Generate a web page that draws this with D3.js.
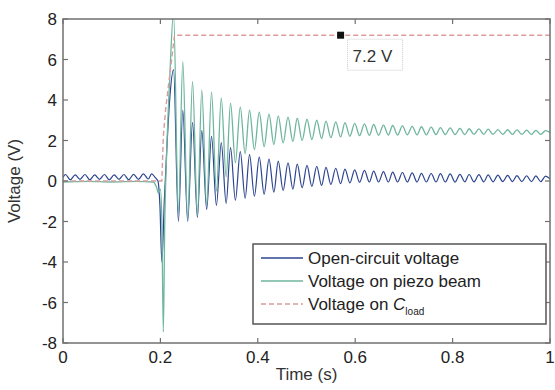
<!DOCTYPE html>
<meta charset="utf-8">
<script src="https://cdn.jsdelivr.net/npm/d3@7"></script>
<title>Voltage vs time</title>
<style>
body { margin: 0; background: #fff; }
svg { font-family: "Liberation Sans", Arial, sans-serif; }
</style>
<svg width="555" height="390"></svg>
<script>

// axis ticks
var xTicks = [0, 0.2, 0.4, 0.6, 0.8, 1];
var yTicks = [-8, -6, -4, -2, 0, 2, 4, 6, 8];

// times of the oscillation peaks / troughs after the impact (s)
var peakTimes = [0.227, 0.246, 0.266, 0.285, 0.305, 0.325, 0.344, 0.364, 0.383, 0.403,
                 0.423, 0.442, 0.462, 0.481, 0.501, 0.521, 0.540, 0.560, 0.579, 0.599,
                 0.619, 0.638, 0.658, 0.677, 0.697, 0.717, 0.736, 0.756, 0.775, 0.795,
                 0.815, 0.834, 0.854, 0.873, 0.893, 0.913, 0.932, 0.952, 0.971, 0.991];
var troughTimes = [0.237, 0.256, 0.276, 0.295, 0.315, 0.335, 0.354, 0.374, 0.393, 0.413,
                   0.433, 0.452, 0.472, 0.491, 0.511, 0.531, 0.550, 0.570, 0.589, 0.609,
                   0.629, 0.648, 0.668, 0.687, 0.707, 0.727, 0.746, 0.766, 0.785, 0.805,
                   0.825, 0.844, 0.864, 0.883, 0.903, 0.923, 0.942, 0.962, 0.981];

// voltage on piezo beam
var beamPre = [[0, -0.05], [0.05, -0.02], [0.1, -0.05], [0.15, -0.02], [0.185, -0.05],
               [0.192, -0.3], [0.196, -0.6], [0.2, -0.4], [0.203, -2.0], [0.206, -7.45],
               [0.209, -2.0], [0.213, 1.5], [0.219, 5.0]];
var beamPeaks = [8.3, 5.9, 4.9, 4.5, 4.4, 4.1, 3.85, 3.65, 3.5, 3.4,
                 3.3, 3.22, 3.15, 3.1, 3.05, 3.0, 2.96, 2.92, 2.88, 2.85,
                 2.82, 2.79, 2.76, 2.74, 2.72, 2.7, 2.68, 2.66, 2.64, 2.62,
                 2.6, 2.58, 2.57, 2.56, 2.54, 2.53, 2.52, 2.51, 2.5, 2.49];
var beamTroughs = [-1.6, -1.9, -1.7, -1.2, -0.5, 0.2, 0.9, 1.35, 1.55, 1.7,
                   1.8, 1.88, 1.95, 2.0, 2.05, 2.1, 2.14, 2.18, 2.21, 2.24,
                   2.25, 2.26, 2.27, 2.27, 2.28, 2.28, 2.28, 2.29, 2.29, 2.29,
                   2.29, 2.3, 2.3, 2.3, 2.3, 2.3, 2.3, 2.3, 2.3];

// open-circuit voltage
var openPre = [[0, 0.18], [0.005, 0.32], [0.015, 0.06], [0.025, 0.3], [0.035, 0.08],
               [0.045, 0.32], [0.055, 0.06], [0.065, 0.3], [0.075, 0.08], [0.085, 0.32],
               [0.095, 0.06], [0.105, 0.3], [0.115, 0.08], [0.125, 0.32], [0.135, 0.06],
               [0.145, 0.33], [0.155, 0.08], [0.165, 0.35], [0.175, 0.1], [0.182, 0.35],
               [0.19, 0.15], [0.195, 0.0], [0.199, -1.2], [0.203, -4.0], [0.208, -1.0],
               [0.213, 1.5], [0.219, 4.0]];
var openPeaks = [5.5, 3.5, 2.9, 2.5, 2.2, 1.9, 1.65, 1.45, 1.3, 1.18,
                 1.08, 0.98, 0.9, 0.83, 0.77, 0.72, 0.67, 0.63, 0.59, 0.55,
                 0.52, 0.49, 0.46, 0.44, 0.42, 0.4, 0.38, 0.37, 0.36, 0.35,
                 0.33, 0.32, 0.31, 0.3, 0.29, 0.28, 0.27, 0.26, 0.25, 0.24];
var openTroughs = [-2.0, -2.0, -1.8, -1.4, -1.2, -1.1, -0.95, -0.85, -0.75, -0.65,
                   -0.55, -0.47, -0.4, -0.33, -0.27, -0.22, -0.17, -0.13, -0.09, -0.06,
                   -0.05, -0.05, -0.05, -0.05, -0.05, -0.05, -0.05, -0.05, -0.05, -0.05,
                   -0.04, -0.04, -0.04, -0.04, -0.03, -0.03, -0.03, -0.03, -0.03];

// voltage on C_load
var loadPoints = [[0, 0], [0.203, 0], [0.206, 2.2], [0.211, 3.6], [0.229, 7.2], [1, 7.2]];
var tipPoint = [0.57, 7.2];
var tipLabel = "7.2 V";

var svg = d3.select("svg");
var pL = 63, pR = 550, pT = 19, pB = 343;

var x = d3.scaleLinear().domain([0, 1]).range([pL, pR]);
var y = d3.scaleLinear().domain([-8, 8]).range([pB, pT]);

function build(pre, peaks, peakT, troughs, troughT) {
  var pts = pre.slice();
  peaks.forEach(function(p, i) {
    pts.push([peakT[i], p]);
    if (i < troughs.length) pts.push([troughT[i], troughs[i]]);
  });
  pts.push([1, peaks[peaks.length - 1] * 0.5 + troughs[troughs.length - 1] * 0.5]);
  return pts;
}

var beam = build(beamPre, beamPeaks, peakTimes, beamTroughs, troughTimes);
var open = build(openPre, openPeaks, peakTimes, openTroughs, troughTimes);

var line = d3.line()
    .x(d => x(d[0]))
    .y(d => y(d[1]))
    .curve(d3.curveMonotoneX);

svg.append("clipPath").attr("id", "plot-clip")
  .append("rect")
    .attr("x", pL).attr("y", pT)
    .attr("width", pR - pL).attr("height", pB - pT);

var plot = svg.append("g").attr("clip-path", "url(#plot-clip)");

var colOpen = "#2d4590", colBeam = "#6fb69e", colLoad = "#d89c9c";

plot.append("path").datum(open)
    .attr("fill", "none").attr("stroke", colOpen).attr("stroke-width", 1.2)
    .attr("d", line);
plot.append("path").datum(beam)
    .attr("fill", "none").attr("stroke", colBeam).attr("stroke-width", 1.3)
    .attr("d", line);
plot.append("path").datum(loadPoints)
    .attr("fill", "none").attr("stroke", colLoad).attr("stroke-width", 1.4)
    .attr("stroke-dasharray", "5,3")
    .attr("d", d3.line().x(d => x(d[0])).y(d => y(d[1])));

// frame
svg.append("rect")
    .attr("x", pL).attr("y", pT)
    .attr("width", pR - pL).attr("height", pB - pT)
    .attr("fill", "none").attr("stroke", "#707070").attr("stroke-width", 1.5);

// ticks on all four sides, pointing inward
var tk = 5;
var axes = svg.append("g").attr("stroke", "#707070").attr("stroke-width", 1.2);
xTicks.forEach(function(t) {
  axes.append("line").attr("x1", x(t)).attr("x2", x(t)).attr("y1", pB).attr("y2", pB - tk);
  axes.append("line").attr("x1", x(t)).attr("x2", x(t)).attr("y1", pT).attr("y2", pT + tk);
});
yTicks.forEach(function(t) {
  axes.append("line").attr("x1", pL).attr("x2", pL + tk).attr("y1", y(t)).attr("y2", y(t));
  axes.append("line").attr("x1", pR).attr("x2", pR - tk).attr("y1", y(t)).attr("y2", y(t));
});

svg.append("g").selectAll("text")
  .data(xTicks)
  .join("text")
    .attr("x", d => x(d))
    .attr("y", pB + 20)
    .attr("text-anchor", "middle")
    .attr("font-size", 17)
    .attr("fill", "#222")
    .text(d => d3.format("")(d));

svg.append("g").selectAll("text")
  .data(yTicks)
  .join("text")
    .attr("x", pL - 6)
    .attr("y", d => y(d) + 6)
    .attr("text-anchor", "end")
    .attr("font-size", 17)
    .attr("fill", "#222")
    .text(d => d < 0 ? "-" + Math.abs(d) : d);

svg.append("text")
    .attr("x", (pL + pR) / 2)
    .attr("y", 380)
    .attr("text-anchor", "middle")
    .attr("font-size", 17)
    .attr("fill", "#333")
    .text("Time (s)");

svg.append("text")
    .attr("transform", "translate(20," + y(0) + ") rotate(-90)")
    .attr("text-anchor", "middle")
    .attr("font-size", 17)
    .attr("fill", "#333")
    .text("Voltage (V)");

// data tip
svg.append("rect")
    .attr("x", x(tipPoint[0]) - 3.5).attr("y", y(tipPoint[1]) - 3.5)
    .attr("width", 7).attr("height", 7)
    .attr("fill", "#111");
svg.append("rect")
    .attr("x", x(tipPoint[0]) + 7).attr("y", y(tipPoint[1]) + 4)
    .attr("width", 55).attr("height", 31)
    .attr("fill", "#fff").attr("stroke", "#ccc").attr("stroke-dasharray", "1,1");
svg.append("text")
    .attr("x", x(tipPoint[0]) + 12).attr("y", y(tipPoint[1]) + 27)
    .attr("font-size", 17)
    .attr("fill", "#333")
    .text(tipLabel);

// legend
var legend = svg.append("g").attr("transform", "translate(253,244)");
legend.append("rect")
    .attr("width", 293).attr("height", 80)
    .attr("fill", "#fff").attr("stroke", "#555").attr("stroke-width", 1.5);

var items = [
  {name: "Open-circuit voltage", color: colOpen, dash: null},
  {name: "Voltage on piezo beam", color: colBeam, dash: null},
  {name: "Voltage on ", color: colLoad, dash: "5,3", sub: true}
];
items.forEach(function(it, i) {
  var yy = 14 + i * 23;
  legend.append("line")
      .attr("x1", 8).attr("x2", 50).attr("y1", yy).attr("y2", yy)
      .attr("stroke", it.color).attr("stroke-width", 1.3)
      .attr("stroke-dasharray", it.dash);
  var t = legend.append("text")
      .attr("x", 55).attr("y", yy + 6)
      .attr("font-size", 17)
      .attr("fill", "#222")
      .text(it.name);
  if (it.sub) {
    t.append("tspan").attr("font-style", "italic").text("C");
    t.append("tspan").attr("font-size", 10).attr("dy", 5).text("load");
  }
});
</script>
